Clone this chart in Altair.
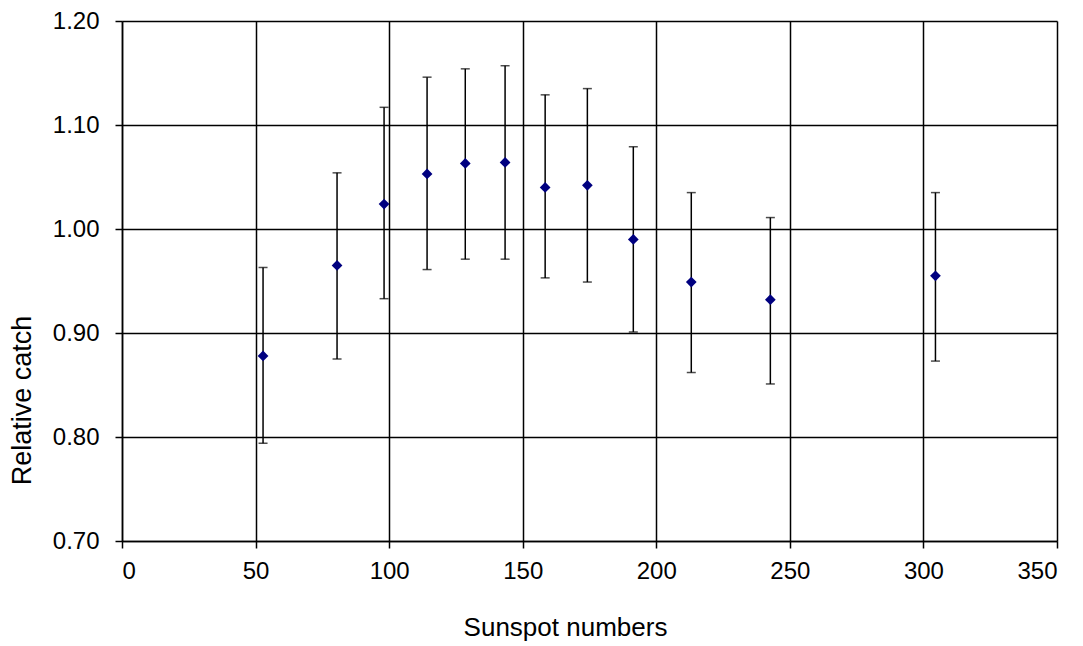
import altair as alt
import pandas as pd

sunspots = [52.8, 80.5, 98.1, 114.2, 128.5, 143.4, 158.4, 174.2, 191.4, 213.1, 242.7, 304.5]
catch = [0.878, 0.965, 1.024, 1.053, 1.063, 1.064, 1.040, 1.042, 0.990, 0.949, 0.932, 0.955]
upper = [0.963, 1.054, 1.117, 1.146, 1.154, 1.157, 1.129, 1.135, 1.079, 1.035, 1.011, 1.035]
lower = [0.794, 0.875, 0.933, 0.961, 0.971, 0.971, 0.953, 0.949, 0.901, 0.862, 0.851, 0.873]

df = pd.DataFrame({"x": sunspots, "y": catch, "hi": upper, "lo": lower})

FONT = "Liberation Sans"

xscale = alt.Scale(domain=[0, 350], nice=False, zero=False)
yscale = alt.Scale(domain=[0.70, 1.20], nice=False, zero=False)

xaxis = alt.Axis(
    values=[0, 50, 100, 150, 200, 250, 300, 350], format="d",
    title="Sunspot numbers", titleX=443, titleY=86, titleBaseline="middle",
    titleAlign="center", titleFontWeight="normal", titleFontSize=26, titleFont=FONT,
    titleColor="#000", labelFont=FONT, labelFontSize=24, labelColor="#000",
    labelPadding=11, tickSize=7, tickColor="#000", domainColor="#000",
    domainWidth=1.5, tickWidth=1.5, grid=True, gridColor="#000", gridWidth=1.5,
    gridOpacity=1,
)
yaxis = alt.Axis(
    values=[0.70, 0.80, 0.90, 1.00, 1.10, 1.20], format=".2f",
    title="Relative catch", titleX=-100, titleY=379, titleAngle=-90,
    titleBaseline="middle", titleAlign="center", titleFontWeight="normal",
    titleFontSize=27, titleFont=FONT, titleColor="#000",
    labelFont=FONT, labelFontSize=24, labelColor="#000", labelPadding=16,
    tickSize=7, tickColor="#000", domainColor="#000", domainWidth=1.5, tickWidth=1.5,
    grid=True, gridColor="#000", gridWidth=1.5, gridOpacity=1,
)

base = alt.Chart(df)

rules = base.mark_rule(color="#000", strokeWidth=1.5).encode(
    x=alt.X("x:Q", scale=xscale, axis=xaxis),
    y=alt.Y("lo:Q", scale=yscale, axis=yaxis),
    y2="hi:Q",
)
cap_hi = base.mark_tick(color="#000", size=9, thickness=1.5, orient="horizontal").encode(
    x=alt.X("x:Q", scale=xscale), y=alt.Y("hi:Q", scale=yscale)
)
cap_lo = base.mark_tick(color="#000", size=9, thickness=1.5, orient="horizontal").encode(
    x=alt.X("x:Q", scale=xscale), y=alt.Y("lo:Q", scale=yscale)
)
points = base.mark_point(shape="diamond", filled=True, size=115, color="#000080", opacity=1).encode(
    x=alt.X("x:Q", scale=xscale), y=alt.Y("y:Q", scale=yscale)
)

chart = alt.layer(rules, cap_hi, cap_lo, points).properties(
    width=935, height=520,
    autosize=alt.AutoSizeParams(type="none"),
    padding={"left": 114, "top": 13, "right": 18, "bottom": 104},
    background="white",
).configure_view(stroke=None)

chart.save("out.html", embed_options={"renderer": "svg", "actions": False})
